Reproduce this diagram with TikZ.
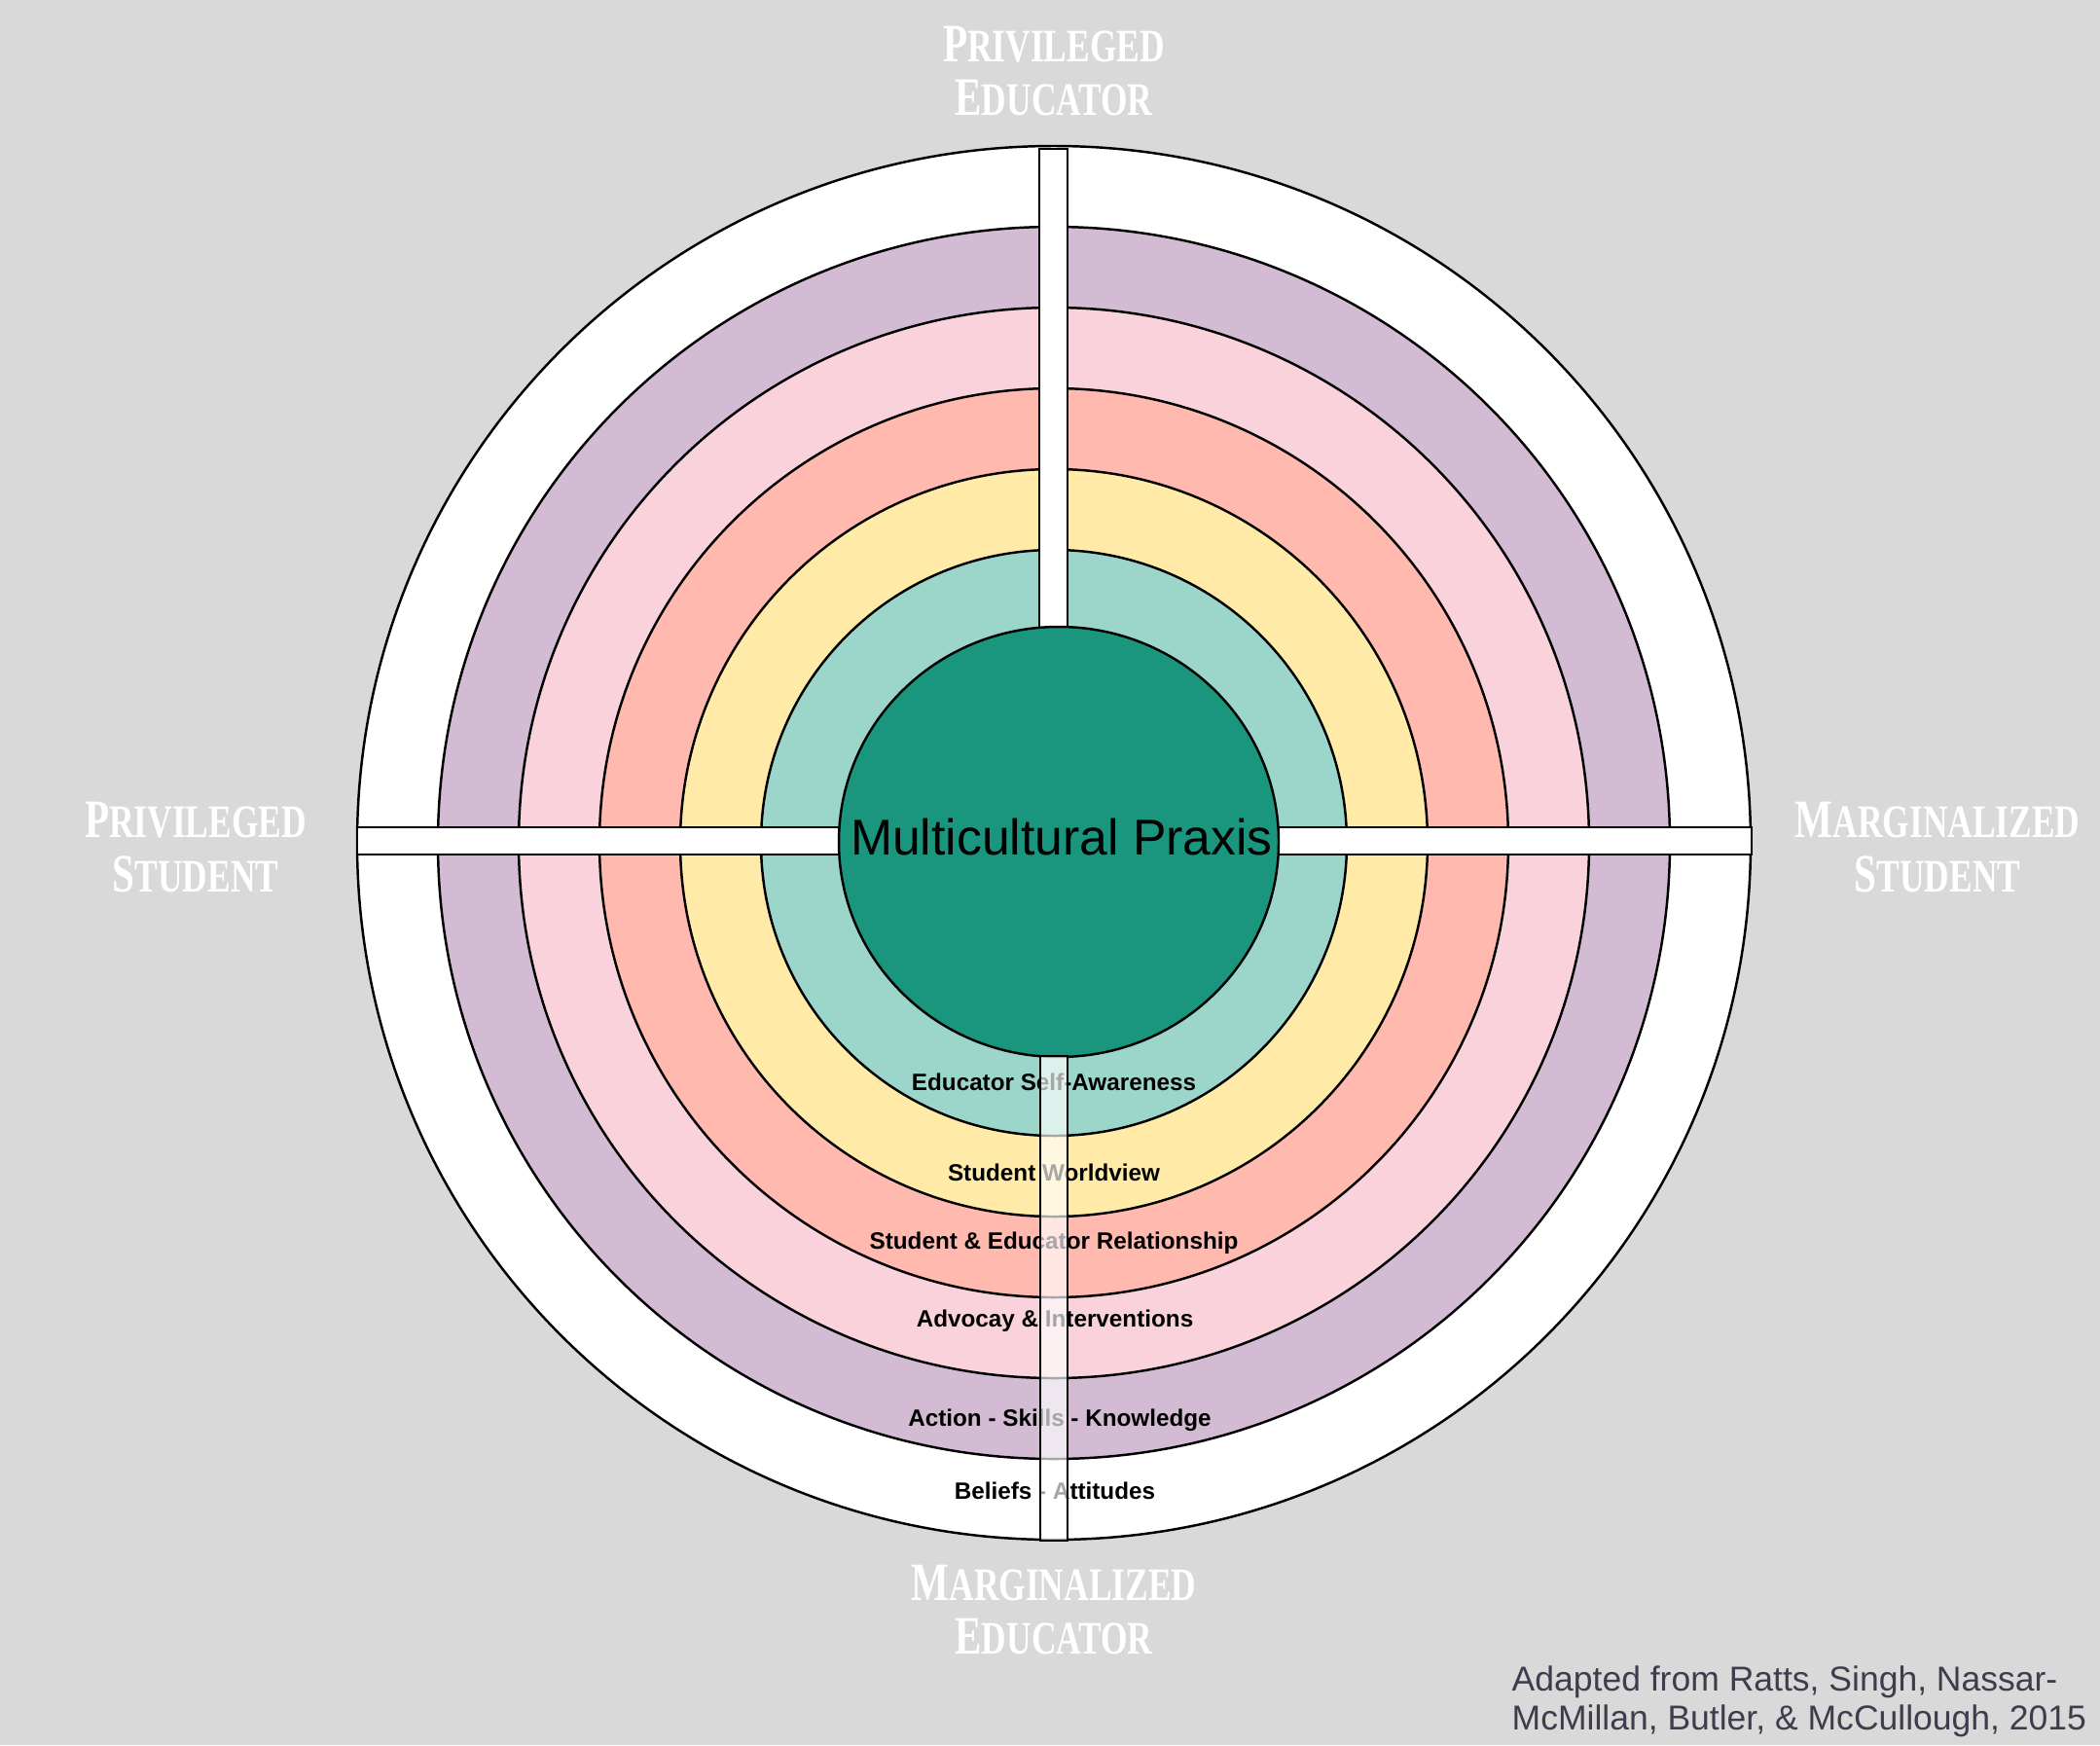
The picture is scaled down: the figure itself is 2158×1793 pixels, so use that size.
\documentclass[tikz,border=0pt]{standalone}
\usepackage{fontspec}
\setmainfont{Liberation Sans}
\newfontfamily\slabfont{Liberation Serif}[FakeStretch=0.74]
\usepackage{xcolor}
\usepackage{tikz}
\definecolor{bggray}{HTML}{D9D9D9}
\definecolor{ringpurple}{HTML}{D3BCD3}
\definecolor{ringpink}{HTML}{F9D2DC}
\definecolor{ringsalmon}{HTML}{FFB9AF}
\definecolor{ringyellow}{HTML}{FFEBA7}
\definecolor{ringteal}{HTML}{9CD6CB}
\definecolor{praxisteal}{HTML}{1A967E}
\definecolor{notegray}{HTML}{3D3D4D}
\newcommand{\smallcap}[2]{{\fontsize{15.8}{15.9}\selectfont #1}#2}
\tikzset{
    myring/.style={draw=black, line width=0.7pt},
    mybar/.style={draw=black, line width=0.7pt, fill=white},
    mylabel/.style={font=\bfseries\fontsize{6.9}{8}\selectfont, anchor=base, inner sep=0pt},
    myside/.style={font=\slabfont\bfseries\fontsize{13.6}{15.9}\selectfont, text=white, align=center, inner sep=0pt}
}

\begin{document}
\begin{tikzpicture}[x=0.01cm, y=-0.01cm]
    \fill[bggray] (0,0) rectangle (2158,1793);
    \useasboundingbox (0,0) rectangle (2158,1793);
    % rings, outside in
    \foreach \r/\col in {716/white,633/ringpurple,550/ringpink,467/ringsalmon,384/ringyellow,301/ringteal}
        \draw[myring,fill=\col] (1083,866) circle (\r);
    % top and side bars
    \draw[mybar] (1068,153) rectangle (1097,660);
    \draw[mybar] (367,850) rectangle (880,878);
    \draw[mybar] (1300,850) rectangle (1800,878);
    % centre
    \draw[myring, fill=praxisteal] (1088,865) ellipse (226 and 221);
    \draw (1091,878) node[anchor=base, inner sep=0pt, font=\fontsize{14.7}{16}\selectfont] (praxis) {Multicultural Praxis};
    % ring labels
    \draw (1083,1120) node[mylabel] (selfaware) {Educator Self-Awareness};
    \draw (1083,1213) node[mylabel] (worldview) {Student Worldview};
    \draw (1083,1283) node[mylabel] (relation) {Student \& Educator Relationship};
    \draw (1084,1363) node[mylabel] (advocacy) {Advocay \& Interventions};
    \draw (1089,1465) node[mylabel] (action) {Action - Skills - Knowledge};
    \draw (1084,1540) node[mylabel] (beliefs) {Beliefs - Attitudes};
    % bottom bar, see-through
    \draw[mybar, fill opacity=0.65] (1069,1085) rectangle (1097,1583);
    % quadrant labels
    \draw (1083,73) node[myside] (priveduc) {\smallcap{P}{RIVILEGED}\\\smallcap{E}{DUCATOR}};
    \draw (201,871) node[myside] (privstud) {\smallcap{P}{RIVILEGED}\\\smallcap{S}{TUDENT}};
    \draw (1991,871) node[myside] (margstud) {\smallcap{M}{ARGINALIZED}\\\smallcap{S}{TUDENT}};
    \draw (1083,1654) node[myside] (margeduc) {\smallcap{M}{ARGINALIZED}\\\smallcap{E}{DUCATOR}};
    \draw (1553,1711) node[anchor=north west, inner sep=0pt, align=left, text=notegray, font=\fontsize{10.1}{11.4}\selectfont] (source) {Adapted from Ratts, Singh, Nassar-\\McMillan, Butler, \& McCullough, 2015};
\end{tikzpicture}
\end{document}
